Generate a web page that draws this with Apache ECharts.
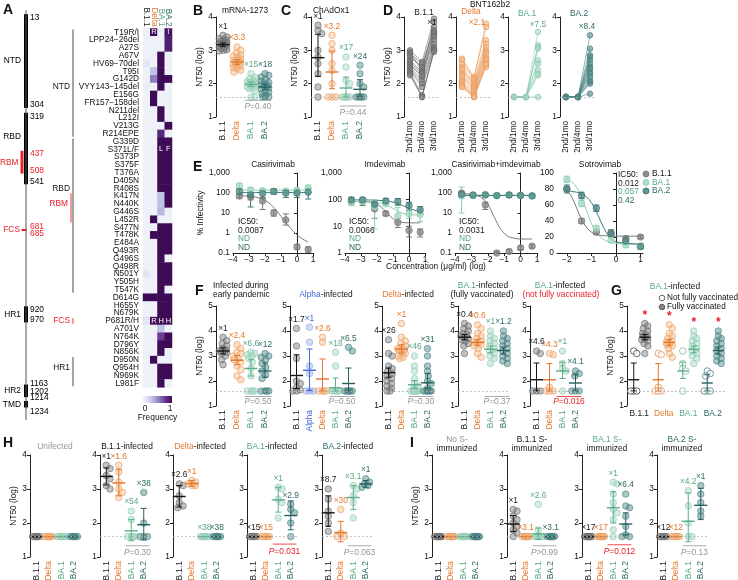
<!DOCTYPE html>
<html>
<head>
<meta charset="utf-8">
<script src="https://cdn.jsdelivr.net/npm/echarts@6.0.0/dist/echarts.min.js"></script>
<style>html,body{margin:0;padding:0;background:#fff;}#chart{width:738px;height:580px;}</style>
</head>
<body>
<div id="chart"></div>
<script>
// ================= DATA =================
// ---- Panel A: heatmap ----
const mutations = ['T19R/I','LPP24\u221226del','A27S','A67V','HV69\u221270del','T95I','G142D','VYY143\u2212145del','E156G','FR157\u2212158del',
 'N211del','L212I','V213G','R214EPE','G339D','S371L/F','S373P','S375F','T376A','D405N',
 'R408S','K417N','N440K','G446S','L452R','S477N','T478K','E484A','Q493R','G496S',
 'Q498R','N501Y','Y505H','T547K','D614G','H655Y','N679K','P681R/H','A701V','N764K',
 'D796Y','N856K','D950N','Q954H','N969K','L981F'];
const heatCols = ['B.1.1','Delta','BA.1','BA.2'];
const freqB11 = [0.02,0.02,0.02,0.02,0.10,0.02,0.02,0.04,0.02,0.02,
 0.02,0.02,0.02,0.02,0.02,0.02,0.02,0.02,0.02,0.02,
 0.02,0.02,0.02,0.02,0.02,0.02,0.02,0.02,0.02,0.02,
 0.02,0.10,0.02,0.02,1.00,0.02,0.02,0.10,0.02,0.02,
 0.02,0.02,0.02,0.02,0.02,0.02];
const freqDelta = [1.00,0.02,0.02,0.02,0.02,0.30,0.55,0.02,1.00,1.00,
 0.02,0.02,0.02,0.02,0.02,0.02,0.02,0.02,0.02,0.02,
 0.02,0.02,0.02,0.02,1.00,0.02,1.00,0.02,0.02,0.02,
 0.02,0.02,0.02,0.02,1.00,0.02,0.02,1.00,0.02,0.02,
 0.02,0.02,1.00,0.02,0.02,0.02];
const freqBA1 = [0.02,0.02,0.02,1.00,1.00,1.00,1.00,1.00,0.02,0.02,
 1.00,1.00,0.02,0.85,1.00,1.00,1.00,1.00,1.00,1.00,
 1.00,0.30,0.30,0.35,0.02,1.00,1.00,1.00,1.00,1.00,
 1.00,1.00,1.00,1.00,1.00,1.00,1.00,1.00,0.30,0.75,
 1.00,1.00,0.02,1.00,1.00,1.00];
const freqBA2 = [0.95,0.90,0.90,0.04,0.03,0.02,1.00,0.02,0.02,0.02,
 0.02,0.02,1.00,0.02,1.00,1.00,1.00,1.00,1.00,1.00,
 1.00,1.00,1.00,0.02,0.02,1.00,1.00,1.00,1.00,0.02,
 1.00,1.00,1.00,0.02,1.00,1.00,1.00,1.00,0.02,1.00,
 1.00,0.02,0.02,1.00,1.00,0.02];
const cellLetterRow = [0,0,15,15,37,37,37];
const cellLetterCol = [1,3,2,3,1,2,3];
const cellLetterTxt = ['R','I','L','F','R','H','H'];
const bracketNames = ['NTD','RBD','RBM','FCS','HR1'];
const bracketFrom = [0,14,21,37,42];
const bracketTo = [13,33,24,37,45];
// ---- Panel A: spike domains ----
const proteinSpan = [1,1273];
const domainNames = ['NTD','RBD','RBM','FCS','HR1','HR2','TMD'];
const domainStart = [13,319,437,681,920,1163,1214];
const domainEnd = [304,541,508,685,970,1202,1234];

const LOD = 1.6;
const V4 = ['B.1.1','Delta','BA.1','BA.2'];

// ---- Panel B: mRNA-1273 ----
const B_B11 = [3.45,3.4,3.35,3.32,3.3,3.27,3.25,3.22,3.2,3.18,3.16,3.15,3.12,3.1,3.08,3.05,3.02,3.0,2.98,3.2];
const B_Delta = [3.1,3.0,2.92,2.86,2.82,2.78,2.74,2.7,2.68,2.65,2.62,2.6,2.58,2.55,2.52,2.48,2.45,2.4,2.35,2.7];
const B_BA1 = [2.3,2.2,2.15,2.1,2.06,2.03,2.0,1.98,1.96,1.93,1.9,1.88,1.85,1.8,1.6,1.6,2.05];
const B_BA2 = [2.3,2.25,2.2,2.12,2.08,2.04,2.0,1.96,1.92,1.88,1.84,1.8,1.75,1.7,1.65,1.6,1.6,1.6,1.95];
const B_mean = [3.17,2.65,1.98,1.9], B_lo = [3.12,2.58,1.92,1.82], B_hi = [3.22,2.72,2.05,1.98];
const B_fold = ['\u00d71','\u00d73.3','\u00d715','\u00d718'];
// ---- Panel C: ChAdOx1 ----
const C_B11 = [3.75,3.6,3.5,3.0,2.8,2.6,2.3,1.9,1.6];
const C_Delta = [3.45,3.2,3.0,2.6,2.4,2.0,1.6,1.6,1.6];
const C_BA1 = [2.8,2.5,2.1,2.0,1.6,1.6,1.6,1.6,1.6];
const C_BA2 = [2.55,2.3,2.0,1.9,1.6,1.6,1.6,1.6,1.6];
const C_mean = [2.78,2.35,1.87,1.83], C_lo = [2.22,1.85,1.6,1.6], C_hi = [3.48,2.98,2.2,2.12];
const C_fold = ['\u00d71','\u00d73.2','\u00d717','\u00d724'];
// ---- Panel D: BNT162b2 longitudinal ----
const D_cats = ['2nd/1mo','2nd/4mo','3rd/1mo'];
const D_B11_1 = [3.0,2.95,2.9,2.85,2.8,2.7,2.65,2.6,2.55,2.5,2.45,2.4,2.35,2.3,2.25];
const D_B11_4 = [2.65,2.4,2.6,2.45,2.5,2.35,2.3,2.2,2.25,2.1,2.0,1.9,1.65,1.6,1.6];
const D_B11_3 = [3.95,3.85,3.6,3.7,3.55,3.5,3.45,3.4,3.3,3.2,3.1,3.05,3.0,3.0,2.95];
const D_Delta_1 = [2.75,2.7,2.6,2.5,2.45,2.4,2.3,2.25,2.2,2.1,2.05,2.0,1.95,1.9,1.9];
const D_Delta_4 = [2.2,2.15,2.1,2.0,1.95,1.9,1.85,1.8,1.75,1.7,1.65,1.6,1.6,1.6,1.6];
const D_Delta_3 = [3.8,3.7,3.3,3.2,3.1,3.0,2.95,2.9,2.8,2.75,2.7,2.6,2.55,2.5,2.6];
const D_BA1_1 = [1.6,1.6,1.6,1.6,1.6,1.6,1.6,1.6,1.6,1.6];
const D_BA1_4 = [1.6,1.6,1.6,1.6,1.6,1.6,1.6,1.6,1.6,1.6];
const D_BA1_3 = [3.55,3.15,3.1,3.05,2.7,2.6,2.4,2.3,2.25,1.6];
const D_BA2_1 = [1.6,1.6,1.6,1.6,1.6,1.6,1.6,1.6,1.6,1.6,1.6,1.6,1.6,1.6,1.6];
const D_BA2_4 = [1.6,1.6,1.6,1.6,1.6,1.6,1.6,1.6,1.6,1.6,1.6,1.6,1.6,1.6,1.6];
const D_BA2_3 = [3.45,3.05,2.85,2.8,2.7,2.6,2.5,2.45,2.35,2.3,2.2,2.1,2.05,2.0,1.7];
const D_fold = ['\u00d71','\u00d72.1','\u00d77.5','\u00d78.4'];
// ---- Panel E: antibodies ----
const E_conc = [-3.6,-2.9,-2.15,-1.45,-0.7,0,0.7];
const E_fitX = [-3.6,-3.2,-2.8,-2.4,-2,-1.6,-1.2,-0.8,-0.4,0,0.35,0.7];
const E_flatX = [-3.6,0.7];
const E_cas_B11 = [70,65,40,10,4.5,0.2,0.15], E_cas_B11_lo = [55,45,15,7,2.5,0.15,0.11], E_cas_B11_hi = [85,80,60,14,9,0.27,0.2];
const E_cas_BA1 = [230,140,130,120,125,130,180], E_cas_BA1_lo = [150,100,90,90,90,80,100], E_cas_BA1_hi = [300,180,170,160,160,180,250];
const E_cas_BA2 = [120,80,95,120,100,100,110], E_cas_BA2_lo = [90,20,55,85,60,60,50], E_cas_BA2_hi = [160,110,130,160,130,140,170];
const E_cas_B11_fit = [74,71,66,57,43,25,11,4.2,1.7,0.8,0.5,0.35];
const E_cas_BA1_fit = [140,140];
const E_cas_BA2_fit = [105,105];
const E_imd_B11 = [85,85,45,30,14,7,6], E_imd_B11_lo = [70,60,20,25,9,4,4], E_imd_B11_hi = [100,105,70,36,20,10,8];
const E_imd_BA1 = [80,85,55,70,25,30,28], E_imd_BA1_lo = [60,70,8,60,15,20,15], E_imd_BA1_hi = [100,100,100,82,50,45,40];
const E_imd_BA2 = [100,100,68,90,85,60,42], E_imd_BA2_lo = [80,85,58,70,62,40,30], E_imd_BA2_hi = [120,115,80,110,110,80,55];
const E_imd_B11_fit = [86,85,84,80,68,45,25,16,14,13.5,13.5,13.5];
const E_imd_BA1_fit = [86,85,84,82,78,70,55,40,31,28,27,26];
const E_imd_BA2_fit = [98,98,98,97,95,92,86,75,60,48,40,35];
const E_ci_B11 = [100,75,25,0.1,0.12,0.18,0.22], E_ci_B11_lo = [85,60,15,0.1,0.1,0.15,0.18], E_ci_B11_hi = [115,90,35,0.12,0.15,0.22,0.27];
const E_ci_BA1 = [70,75,85,72,80,78,70], E_ci_BA1_lo = [10,60,70,60,60,60,55], E_ci_BA1_hi = [200,90,100,85,100,95,85];
const E_ci_BA2 = [85,80,80,75,80,75,72], E_ci_BA2_lo = [70,65,65,60,60,60,60], E_ci_BA2_hi = [100,95,95,90,95,90,85];
const E_ci_B11_fit = [95,90,80,60,28,6,1.5,0.7,0.55,0.5,0.5,0.5];
const E_ci_BA1_fit = [78,78];
const E_ci_BA2_fit = [75,75];
const E_sot_conc = [-2,-1.4,-0.8,-0.2,0.4,1];
const E_sot_fitX = [-2,-1.8,-1.6,-1.4,-1.2,-1,-0.8,-0.6,-0.4,-0.2,0,0.5,1];
const E_sot_B11 = [80,40,26,24,18,20], E_sot_B11_lo = [77,37,23,21,15,18], E_sot_B11_hi = [83,43,29,27,21,22];
const E_sot_BA1 = [92,62,31,16,10,9], E_sot_BA1_lo = [88,58,28,13,7,6], E_sot_BA1_hi = [96,66,34,19,13,12];
const E_sot_BA2 = [80,72,56,25,15,8], E_sot_BA2_lo = [75,68,52,21,11,5], E_sot_BA2_hi = [85,76,60,29,19,11];
const E_sot_B11_fit = [78,70,56,42,32,26,23,22,21.5,21,21,21,21];
const E_sot_BA1_fit = [92,89,82,70,53,37,26,19,15,13,12,11,11];
const E_sot_BA2_fit = [78,77,76,74,70,63,52,38,26,18,14,12,11];
const E_ic50_cas = ['0.0087','ND','ND'];
const E_ic50_imd = ['0.0066','ND','ND'];
const E_ic50_ci = ['0.0031','ND','ND'];
const E_ic50_sot = ['0.012','0.057','0.42'];
// ---- Panel F ----
const F1_B11 = [3.75,3.62,3.5,3.4,3.3,3.25,3.2,3.2,3.15,3.1,3.0,2.85,2.65];
const F1_Delta = [3.45,3.3,3.15,3.1,3.0,2.9,2.85,2.75,2.6,2.45,2.2,2.05];
const F1_BA1 = [3.15,3.1,3.05,3.0,2.9,2.75,2.5,2.2,1.6,1.6,1.6,1.6];
const F1_BA2 = [3.1,3.0,2.95,2.85,2.7,2.55,2.4,2.25,2.1,1.6,1.6,1.6,1.6];
const F1_mean = [3.2,2.83,2.5,2.4], F1_lo = [3.08,2.65,2.2,2.15], F1_hi = [3.33,3.02,2.85,2.72];
const F1_fold = ['\u00d71','\u00d72.4','\u00d76.6','\u00d712'];
const F2_cats = ['B.1.1','Alpha','Delta','BA.1','BA.2'];
const F2_B11 = [4.1,3.4,2.9,2.0,1.9,1.75,1.65,1.6,1.6];
const F2_Alpha = [4.15,3.55,2.6,2.3,1.6,1.6,1.6];
const F2_Delta = [3.75,3.55,1.6,1.6,1.6,1.6];
const F2_BA1 = [3.15,2.6,1.6,1.6,1.6,1.6,1.6];
const F2_BA2 = [3.35,3.2,1.6,1.6,1.6,1.6,1.6,1.6];
const F2_mean = [2.22,2.43,2.08,1.73,1.9], F2_lo = [1.7,1.62,1.6,1.6,1.6], F2_hi = [3.05,3.28,2.88,2.12,2.52];
const F2_fold = ['\u00d71.7','\u00d71','\u00d72.6','\u00d718','\u00d76.5'];
const F3_B11 = [3.65,3.1,3.0,2.6,2.5,2.4,2.3,2.2,2.1,2.0,1.9,1.8,1.7,1.6,1.6];
const F3_Delta = [4.3,3.75,3.6,3.5,3.4,3.3,3.3,3.25,3.2,3.15,3.1,3.0,2.95,2.9];
const F3_BA1 = [3.0,2.6,2.4,2.1,1.9,1.8,1.7,1.6,1.6,1.6,1.6,1.6,1.6,1.6];
const F3_BA2 = [3.3,3.0,2.6,2.4,2.2,2.0,1.9,1.7,1.6,1.6,1.6,1.6,1.6,1.6];
const F3_mean = [2.33,3.28,1.85,1.93], F3_lo = [2.15,3.12,1.7,1.72], F3_hi = [2.52,3.45,2.02,2.3];
const F3_fold = ['\u00d726','\u00d71','\u00d746','\u00d731'];
const F4_B11 = [4.3,4.2,4.1,4.0,3.9,3.85,3.8,3.75,3.7,3.65,3.6,3.5,3.4,3.1];
const F4_Delta = [4.25,4.1,3.9,3.8,3.7,3.6,3.55,3.5,3.45,3.4,3.3,3.1,2.95];
const F4_BA1 = [4.0,3.8,3.7,3.6,3.5,3.4,3.3,3.2,3.1,3.0,2.9,2.7];
const F4_BA2 = [4.0,3.8,3.7,3.6,3.5,3.4,3.3,3.2,3.1,3.0,2.9,2.8,2.7];
const F4_mean = [3.75,3.55,3.27,3.22], F4_lo = [3.65,3.43,3.13,3.08], F4_hi = [3.86,3.67,3.4,3.36];
const F4_fold = ['\u00d70.4','\u00d70.6','\u00d71','\u00d71.2'];
const F5_B11 = [3.2,3.1,1.6,1.6,1.6];
const F5_Delta = [3.1,3.05,1.75,1.6,1.6,1.6];
const F5_BA1 = [3.2,2.7,2.5,2.4,1.6];
const F5_BA2 = [2.4,2.3,2.2,1.6,1.6,1.6];
const F5_mean = [2.05,2.05,2.4,1.92], F5_lo = [1.6,1.6,2.1,1.6], F5_hi = [2.72,2.7,2.75,2.25];
const F5_fold = ['\u00d74.6','\u00d74.3','\u00d71','\u00d74.1'];
// ---- Panel H ----
const H1_B11 = [1.6,1.6,1.6,1.6,1.6,1.6], H1_Delta = [1.6,1.6,1.6,1.6,1.6,1.6], H1_BA1 = [1.6,1.6,1.6,1.6,1.6,1.6], H1_BA2 = [1.6,1.6,1.6,1.6,1.6,1.6];
const H1_mean = [1.6,1.6,1.6,1.6];
const H2_B11 = [3.7,3.6,3.4,3.3,3.1,3.0], H2_Delta = [3.7,3.5,3.2,3.0,2.9,2.75], H2_BA1 = [2.35,2.1,1.6,1.6,1.6,1.6], H2_BA2 = [2.9,2.0,1.6,1.6,1.6];
const H2_mean = [3.37,3.18,1.77,1.95], H2_lo = [3.12,2.8,1.48,1.5], H2_hi = [3.62,3.58,2.1,2.43];
const H2_fold = ['\u00d71','\u00d71.6','\u00d754','\u00d738'];
const H3_B11 = [3.15,3.1,2.8,2.6,2.5,2.45], H3_Delta = [3.25,3.2,3.15,3.1,3.1], H3_BA1 = [1.6,1.6,1.6,1.6,1.6,1.6], H3_BA2 = [1.6,1.6,1.6,1.6,1.6,1.6];
const H3_mean = [2.78,3.16,1.6,1.6], H3_lo = [2.47,3.08,1.6,1.6], H3_hi = [3.1,3.25,1.6,1.6];
const H3_fold = ['\u00d72.6','\u00d71','\u00d738','\u00d738'];
const H4_B11 = [1.6,1.6,1.6,1.6,1.6], H4_Delta = [1.6,1.6,1.6,1.6,1.6], H4_BA1 = [3.05,3.0,2.7,2.6,2.15], H4_BA2 = [2.55,2.4,2.3,2.0,1.6];
const H4_mean = [1.6,1.6,2.68,2.22], H4_lo = [1.6,1.6,2.32,1.8], H4_hi = [1.6,1.6,3.05,2.65];
const H4_fold = ['\u00d715','\u00d715','\u00d71','\u00d72.9'];
const H5_B11 = [3.0,2.7,2.35,2.2,2.0,1.75], H5_Delta = [2.4,1.7,1.6,1.6], H5_BA1 = [3.1,3.0,2.8,2.6,2.15], H5_BA2 = [3.3,3.2,3.15,3.1,3.05];
const H5_mean = [2.3,1.72,2.75,3.15], H5_lo = [1.9,1.45,2.4,3.05], H5_hi = [2.8,2.05,3.1,3.25];
const H5_fold = ['\u00d78.7','\u00d730','\u00d73.1','\u00d71'];
// ---- Panel I ----
const I1_B11 = [1.6,1.6,1.6,1.6,1.6,1.6,1.6,1.6], I1_Delta = [1.6,1.6,1.6,1.6,1.6,1.6,1.6,1.6], I1_BA1 = [1.6,1.6,1.6,1.6,1.6,1.6,1.6,1.6], I1_BA2 = [1.6,1.6,1.6,1.6,1.6,1.6,1.6,1.6];
const I1_mean = [1.6,1.6,1.6,1.6];
const I2_B11 = [2.4,2.35,2.2,2.1,2.0,1.9,1.8,1.7,1.6], I2_Delta = [1.6,1.6,1.6,1.6,1.6,1.6,1.6,1.6], I2_BA1 = [2.55,1.8,1.6,1.6,1.6,1.6,1.6,1.6], I2_BA2 = [1.6,1.6,1.6,1.6,1.6,1.6,1.6,1.6];
const I2_mean = [1.97,1.6,1.68,1.6], I2_lo = [1.75,1.6,1.52,1.6], I2_hi = [2.22,1.6,1.85,1.6];
const I2_fold = ['\u00d71','\u00d73.1','\u00d72.6','\u00d73.1'];
const I3_B11 = [1.6,1.6,1.6,1.6,1.6,1.6,1.6,1.6], I3_Delta = [1.6,1.6,1.6,1.6,1.6,1.6,1.6,1.6], I3_BA1 = [3.2,3.15,2.85,2.6,2.4,2.3,2.1,1.8,1.6], I3_BA2 = [2.85,2.5,2.45,2.2,1.9,1.65,1.6,1.6];
const I3_mean = [1.6,1.6,2.45,1.97], I3_lo = [1.6,1.6,2.0,1.65], I3_hi = [1.6,1.6,2.92,2.3];
const I3_fold = ['\u00d717','\u00d717','\u00d71','\u00d76.4'];
const I4_B11 = [1.6,1.6,1.6,1.6,1.6], I4_Delta = [1.6,1.6,1.6,1.6,1.6], I4_BA1 = [2.95,2.5,2.0,1.6,1.6], I4_BA2 = [3.1,2.85,2.6,2.35,2.2];
const I4_mean = [1.6,1.6,2.05,2.52], I4_lo = [1.6,1.6,1.45,2.1], I4_hi = [1.6,1.6,2.88,3.02];
const I4_fold = ['\u00d712','\u00d712','\u00d74.2','\u00d71'];

// ================= STYLE / BUILD =================
const FONT = '"Liberation Sans", Arial, Helvetica, sans-serif';
const FS = 8.4;
const COL = {
  b11:{pt:'rgba(128,128,128,0.6)', st:'#6a6a6a', bar:'#151515', lab:'#1a1a1a', line:'#7a7a7a'},
  delta:{pt:'rgba(246,186,136,0.55)', st:'#eb9a5a', bar:'#e3772c', lab:'#e3772c', line:'#eea061'},
  ba1:{pt:'rgba(165,218,196,0.6)', st:'#8fcab0', bar:'#5dae8b', lab:'#55a883', line:'#8dcfb1'},
  ba2:{pt:'rgba(78,136,134,0.6)', st:'#4a8482', bar:'#27605e', lab:'#2c6866', line:'#3d7674'},
  alpha:{pt:'rgba(150,172,238,0.55)', st:'#8ea6ea', bar:'#4466d0', lab:'#4466d0', line:'#4466d0'}
};
const GRAYT = '#959595', RED = '#e8202a';
const K4 = ['b11','delta','ba1','ba2'];
const HEAT_COLORS = ['#f2f4fa','#c9d0ec','#9a90c8','#6a3c96','#3e0b56'];
const bracketLabelRow = [6.5, 20.3, 21.8, 37, 43.2];

const option = {animation:false, backgroundColor:'#fff', textStyle:{fontFamily:FONT},
  grid:[], xAxis:[], yAxis:[], series:[], visualMap:[], graphic:{elements:[]}};
const G = option.graphic.elements;

function T(x, y, text, o){
  o = o || {}; const size = o.size || FS;
  const st = {text:text, fill:o.fill||'#111', font:(o.bold?'bold ':'')+(o.italic?'italic ':'')+size+'px '+FONT,
    textAlign:o.align||'left', align:o.align||'left', textVerticalAlign:o.va||'middle', verticalAlign:o.va||'middle'};
  if (o.rich) st.rich = o.rich;
  G.push({type:'text', x:x, y:y, silent:true, z:100, style:st});
}
function R(col, extra){ return Object.assign({fill:col, fontSize:FS, fontFamily:FONT}, extra||{}); }
function newGrid(p){
  option.grid.push({left:p.left, top:p.top, width:p.width, height:p.height, containLabel:false, outerBoundsMode:'none'});
  return option.grid.length - 1;
}
function addCat(gi, cats, colors, o){
  o = o || {};
  option.xAxis.push({type:'category', gridIndex:gi, data:cats, boundaryGap:true,
    axisLine:{show:false}, axisTick:{show:false}, splitLine:{show:false},
    axisLabel:{interval:0, rotate:(o.rotate===undefined?90:o.rotate), fontSize:o.fs||FS, fontFamily:FONT, margin:o.margin||4,
      color:function(v, i){ return colors[i]; }}});
}
function addVal(gi, min, max, interval, o){
  o = o || {};
  option.yAxis.push({type:'value', gridIndex:gi, min:min, max:max, interval:interval,
    axisLine:{show:true, lineStyle:{color:'#222', width:1}}, axisTick:{show:true, length:3, lineStyle:{color:'#222'}},
    splitLine:{show:false}, axisLabel:{fontSize:FS, fontFamily:FONT, color:'#111', margin:3},
    name:o.name||'', nameLocation:'middle', nameGap:o.nameGap||13,
    nameTextStyle:{fontSize:FS, fontFamily:FONT, color:'#111'}});
}
const LODLINE = {silent:true, symbol:'none', label:{show:false}, animation:false,
  lineStyle:{type:[2,2], color:'#b3b3b3', width:0.8}, data:[{yAxis:LOD}]};

function swarm(vals, ppu, d, cap){
  const n = vals.length, order = vals.map((v,i)=>i).sort((a,b)=>vals[b]-vals[a]);
  const pos = [], offs = new Array(n).fill(0);
  const cands = [0]; for (let s = 0.75; s <= cap + 1e-6; s += 0.75) { cands.push(s, -s); }
  for (const i of order) {
    const y = vals[i]*ppu; let best = 0, bestD = -1;
    for (const o of cands) {
      let md = Infinity;
      for (const q of pos) { const dd = Math.hypot(q[0]-o, q[1]-y); if (dd < md) md = dd; }
      if (md >= d) { best = o; bestD = md; break; }
      if (md > bestD) { bestD = md; best = o; }
    }
    offs[i] = best; pos.push([best, y]);
  }
  return offs;
}

function dotPanel(p){
  const gi = newGrid(p);
  const cats = p.cats || V4, keys = p.keys || K4;
  addCat(gi, cats, keys.map(k=>COL[k].lab), {rotate:p.rotate});
  addVal(gi, p.ymin, p.ymax, 1, {name:p.yName?'NT50 (log)':'', nameGap:p.nameGap||12});
  const catW = p.width/cats.length, ppu = p.height/(p.ymax-p.ymin);
  const subs = p.subs || [{groups:p.groups, mean:p.mean, lo:p.lo||p.mean, hi:p.hi||p.mean, shift:0, open:false}];
  let first = true;
  subs.forEach(function(sub){
    sub.groups.forEach(function(vals, k){
      const c = COL[keys[k]];
      const offs = swarm(vals, ppu, p.dotD||5, p.cap||catW*0.32);
      const s = {type:'scatter', xAxisIndex:gi, yAxisIndex:gi, symbol:'circle', symbolSize:p.sym||6.5, z:2, silent:true,
        data:vals.map((v,j)=>({value:[k,v], symbolOffset:[offs[j]+sub.shift,0]})),
        itemStyle:{color:sub.open?'rgba(255,255,255,0.85)':c.pt, borderColor:sub.open?c.bar:c.st, borderWidth:0.8}};
      if (first) { s.markLine = LODLINE; first = false; }
      option.series.push(s);
    });
    option.series.push({type:'custom', xAxisIndex:gi, yAxisIndex:gi, z:4, silent:true, clip:false,
      encode:{x:0, y:[1,2,3]},
      data:sub.mean.map((m,k)=>[k, m, sub.lo[k], sub.hi[k]]),
      renderItem:function(params, api){
        const k = api.value(0), col = COL[keys[k]].bar;
        const pm = api.coord([k, api.value(1)]), pl = api.coord([k, api.value(2)]), ph = api.coord([k, api.value(3)]);
        const x = pm[0] + sub.shift, hw = p.meanHW||6.5, cw = p.capHW||3;
        return {type:'group', children:[
          {type:'line', shape:{x1:x-hw, y1:pm[1], x2:x+hw, y2:pm[1]}, style:{stroke:col, lineWidth:1.4}},
          {type:'line', shape:{x1:x, y1:pl[1], x2:x, y2:ph[1]}, style:{stroke:col, lineWidth:1}},
          {type:'line', shape:{x1:x-cw, y1:pl[1], x2:x+cw, y2:pl[1]}, style:{stroke:col, lineWidth:1}},
          {type:'line', shape:{x1:x-cw, y1:ph[1], x2:x+cw, y2:ph[1]}, style:{stroke:col, lineWidth:1}}]};
      }});
  });
  if (p.folds) {
    option.series.push({type:'custom', xAxisIndex:gi, yAxisIndex:gi, z:5, silent:true, clip:false, encode:{x:0, y:1},
      data:p.groups.map((vals,k)=>[k, Math.max.apply(null, vals)]),
      renderItem:function(params, api){
        const k = api.value(0), pt = api.coord([k, api.value(1)]);
        return {type:'text', x:pt[0], y:pt[1]-5, style:{text:p.folds[k], fill:COL[keys[k]].lab, font:FS+'px '+FONT,
          align:'center', verticalAlign:'bottom', textAlign:'center', textVerticalAlign:'bottom'}};
      }});
  }
  if (p.stars) {
    const sub = p.stars;
    option.series.push({type:'custom', xAxisIndex:gi, yAxisIndex:gi, z:5, silent:true, clip:false, encode:{x:0, y:1},
      data:sub.groups.map((vals,k)=>[k, Math.max.apply(null, vals)]),
      renderItem:function(params, api){
        const k = api.value(0), pt = api.coord([k, api.value(1)]);
        return {type:'text', x:pt[0]+sub.shift, y:pt[1]-2, style:{text:'*', fill:RED, font:'bold 12px '+FONT,
          align:'center', verticalAlign:'bottom', textAlign:'center', textVerticalAlign:'bottom'}};
      }});
  }
  if (p.p) {
    const P = p.p;
    option.series.push({type:'custom', xAxisIndex:gi, yAxisIndex:gi, z:5, silent:true, clip:false, encode:{x:0, y:1},
      data:[[P.a, P.line]],
      renderItem:function(params, api){
        const a = api.coord([P.a, P.line]), b = api.coord([P.b, P.line]), t = api.coord([P.a, P.txt]);
        const hw = catW*0.45;
        return {type:'group', children:[
          {type:'line', shape:{x1:a[0]-hw, y1:a[1], x2:b[0]+hw, y2:b[1]}, style:{stroke:P.color, lineWidth:0.8}},
          {type:'text', x:(a[0]+b[0])/2, y:t[1], style:{text:'{i|P}'+P.text, fill:P.color, font:FS+'px '+FONT,
            rich:{i:{fontStyle:'italic', fontSize:FS, fontFamily:FONT, fill:P.color}},
            align:'center', verticalAlign:'middle', textAlign:'center', textVerticalAlign:'middle'}}]};
      }});
  }
  return gi;
}

function pairPanel(p){
  const gi = newGrid(p);
  addCat(gi, D_cats, ['#111','#111','#111'], {rotate:90, fs:8.2});
  addVal(gi, 1, 4, 1, {name:p.yName?'NT50 (log)':'', nameGap:12});
  const c = COL[p.key];
  p.v1.forEach(function(_, i){
    const s = {type:'line', xAxisIndex:gi, yAxisIndex:gi, silent:true, z:2, symbol:'circle', symbolSize:5.5,
      data:[[0,p.v1[i]],[1,p.v2[i]],[2,p.v3[i]]],
      lineStyle:{color:c.st, width:0.7, opacity:0.85},
      itemStyle:{color:c.pt, borderColor:c.st, borderWidth:0.8}};
    if (i === 0) s.markLine = LODLINE;
    option.series.push(s);
  });
  return gi;
}

function curvePanel(p){
  const gi = newGrid(p);
  const xa = {type:'value', gridIndex:gi, min:p.xmin, max:p.xmax,
    axisLine:{show:true, lineStyle:{color:'#222'}}, axisTick:{show:true, length:3, lineStyle:{color:'#222'}}, splitLine:{show:false},
    axisLabel:{fontSize:FS, fontFamily:FONT, color:'#111', margin:3, formatter:function(v){ return String(v).replace('-', '\u2212'); }}};
  if (p.xticks) { xa.axisLabel.customValues = p.xticks; xa.axisTick.customValues = p.xticks; }
  else { xa.interval = 1; }
  option.xAxis.push(xa);
  const ya = {type:p.log?'log':'value', gridIndex:gi, min:p.ymin, max:p.ymax,
    axisLine:{show:true, lineStyle:{color:'#222'}}, axisTick:{show:true, length:3, lineStyle:{color:'#222'}}, splitLine:{show:false},
    axisLabel:{fontSize:FS, fontFamily:FONT, color:'#111', margin:3,
      formatter:function(v){ return v >= 1000 ? '1,000' : String(v); }},
    name:p.yName||'', nameLocation:'middle', nameGap:26, nameTextStyle:{fontSize:FS, fontFamily:FONT, color:'#111'}};
  if (p.log) ya.logBase = 10; else ya.interval = p.yint;
  option.yAxis.push(ya);
  p.vars.forEach(function(v){
    const c = COL[v.key];
    option.series.push({type:'line', xAxisIndex:gi, yAxisIndex:gi, silent:true, z:1, smooth:0.35, symbol:'none',
      data:v.fx.map((x,i)=>[x, v.fy[i]]), lineStyle:{color:c.line, width:1}});
    option.series.push({type:'custom', xAxisIndex:gi, yAxisIndex:gi, silent:true, z:2, clip:false, encode:{x:0, y:[1,2]},
      data:v.x.map((x,i)=>[x, v.lo[i], v.hi[i]]),
      renderItem:function(params, api){
        const a = api.coord([api.value(0), api.value(1)]), b = api.coord([api.value(0), api.value(2)]);
        const cw = 3, col = c.line;
        return {type:'group', children:[
          {type:'line', shape:{x1:a[0], y1:a[1], x2:b[0], y2:b[1]}, style:{stroke:col, lineWidth:1}},
          {type:'line', shape:{x1:a[0]-cw, y1:a[1], x2:a[0]+cw, y2:a[1]}, style:{stroke:col, lineWidth:1}},
          {type:'line', shape:{x1:b[0]-cw, y1:b[1], x2:b[0]+cw, y2:b[1]}, style:{stroke:col, lineWidth:1}}]};
      }});
    option.series.push({type:'scatter', xAxisIndex:gi, yAxisIndex:gi, silent:true, z:3, symbol:'circle', symbolSize:6.5,
      data:v.x.map((x,i)=>[x, v.y[i]]),
      itemStyle:{color:c.pt.replace(/0\.\d+\)$/, '0.9)'), borderColor:c.line, borderWidth:0.9}});
  });
  return gi;
}

// ---------- Panel A ----------
T(3, 10, 'A', {bold:true, size:14});
(function(){
  const gi = newGrid({left:14, top:10, width:24, height:410});
  option.xAxis.push({type:'value', gridIndex:gi, min:0, max:1, show:false});
  option.yAxis.push({type:'value', gridIndex:gi, min:0, max:1273, inverse:true, show:false});
  option.series.push({type:'line', xAxisIndex:gi, yAxisIndex:gi, silent:true, symbol:'none',
    data:[[0.5, proteinSpan[0]],[0.5, proteinSpan[1]]], lineStyle:{color:'#555', width:1}});
  const sDy = [3,4,3,-3,3,-1,-3], eDy = [-3,-3,-3,3,-3,-5,4], nDy = [0,-12,0,0,0,0,0];
  option.series.push({type:'custom', xAxisIndex:gi, yAxisIndex:gi, silent:true, clip:false, z:3, encode:{x:0, y:[1,2]},
    data:domainStart.map((s,i)=>[0.5, s, domainEnd[i], i]),
    renderItem:function(params, api){
      const i = api.value(3), nm = domainNames[i];
      const a = api.coord([0.5, api.value(1)]), b = api.coord([0.5, api.value(2)]);
      const red = (nm === 'RBM' || nm === 'FCS'), col = red ? RED : '#000';
      const ch = [];
      if (nm === 'RBM') ch.push({type:'rect', shape:{x:a[0]-5.5, y:a[1], width:3, height:b[1]-a[1]}, style:{fill:RED}});
      else if (nm === 'FCS') ch.push({type:'rect', shape:{x:a[0]-4.5, y:(a[1]+b[1])/2-1, width:5, height:2}, style:{fill:RED}});
      else ch.push({type:'rect', shape:{x:a[0]-2, y:a[1], width:4, height:b[1]-a[1]}, style:{fill:'#000'}});
      const lx = nm === 'RBM' ? a[0]-7.5 : (nm === 'FCS' ? a[0]-6 : a[0]-5);
      ch.push({type:'text', x:lx, y:(a[1]+b[1])/2+nDy[i], style:{text:nm, fill:col, font:FS+'px '+FONT, align:'right', verticalAlign:'middle', textAlign:'right', textVerticalAlign:'middle'}});
      ch.push({type:'text', x:a[0]+4, y:a[1]+sDy[i], style:{text:String(domainStart[i]), fill:col, font:FS+'px '+FONT, align:'left', verticalAlign:'middle', textAlign:'left', textVerticalAlign:'middle'}});
      ch.push({type:'text', x:a[0]+4, y:b[1]+eDy[i], style:{text:String(domainEnd[i]), fill:col, font:FS+'px '+FONT, align:'left', verticalAlign:'middle', textAlign:'left', textVerticalAlign:'middle'}});
      return {type:'group', children:ch};
    }});
})();
(function(){
  const gi = newGrid({left:143, top:28.5, width:29, height:46*7.8});
  option.xAxis.push({type:'category', gridIndex:gi, data:heatCols, position:'top',
    axisLine:{show:false}, axisTick:{show:false},
    axisLabel:{interval:0, rotate:90, fontSize:8.2, fontFamily:FONT, margin:2,
      color:function(v,i){ return COL[K4[i]].lab; }}});
  option.yAxis.push({type:'category', gridIndex:gi, data:mutations, inverse:true,
    axisLine:{show:false}, axisTick:{show:false},
    axisLabel:{interval:0, fontSize:8.3, fontFamily:FONT, color:'#111', margin:4}});
  const freqs = [freqB11, freqDelta, freqBA1, freqBA2];
  const data = [];
  freqs.forEach((arr,c)=>arr.forEach((v,r)=>data.push([c, r, v])));
  const letter = {};
  cellLetterRow.forEach((r,i)=>{ letter[r+'_'+cellLetterCol[i]] = cellLetterTxt[i]; });
  const idx = option.series.length;
  option.series.push({type:'heatmap', xAxisIndex:gi, yAxisIndex:gi, data:data, silent:true,
    itemStyle:{borderWidth:0},
    label:{show:true, color:'#fff', fontSize:7.5, fontFamily:FONT,
      formatter:function(q){ return letter[q.data[1]+'_'+q.data[0]] || ''; }}});
  option.visualMap.push({type:'continuous', show:false, min:0, max:1, dimension:2, seriesIndex:idx,
    inRange:{color:HEAT_COLORS}});
  option.series.push({type:'custom', xAxisIndex:gi, yAxisIndex:gi, silent:true, clip:false, encode:{x:0, y:[1,2]},
    data:bracketFrom.map((f,i)=>[0, f, bracketTo[i], i]),
    renderItem:function(params, api){
      const i = api.value(3), nm = bracketNames[i];
      const a = api.coord([0, api.value(1)]), b = api.coord([0, api.value(2)]);
      const h = api.size([0, 1])[1];
      const red = (nm === 'RBM' || nm === 'FCS'), col = red ? RED : '#333';
      const x = nm === 'RBM' ? 71 : 73;
      const y1 = a[1]-h/2+1, y2 = b[1]+h/2-1;
      const ly = api.coord([0, bracketLabelRow[i]])[1];
      return {type:'group', children:[
        {type:'line', shape:{x1:x, y1:y1, x2:x, y2:y2}, style:{stroke:col, lineWidth:0.9}},
        {type:'text', x:x-3, y:ly, style:{text:nm, fill:red?RED:'#111', font:FS+'px '+FONT, align:'right', verticalAlign:'middle', textAlign:'right', textVerticalAlign:'middle'}}]};
    }});
})();
G.push({type:'rect', silent:true, shape:{x:143, y:396, width:29, height:7},
  style:{fill:{type:'linear', x:0, y:0, x2:1, y2:0, colorStops:HEAT_COLORS.map((c,i)=>({offset:i/(HEAT_COLORS.length-1), color:c}))}}});
T(145, 409, '0', {align:'center'});
T(170, 409, '1', {align:'center'});
T(157.5, 418, 'Frequency', {align:'center'});

// ---------- Panel B ----------
T(193, 4, 'B', {bold:true, size:14, va:'top'});
T(222, 11, 'mRNA-1273');
dotPanel({left:216, top:17, width:56, height:100, ymin:1, ymax:4, yName:true,
  groups:[B_B11, B_Delta, B_BA1, B_BA2], mean:B_mean, lo:B_lo, hi:B_hi, folds:B_fold,
  p:{a:2, b:3, line:1.5, txt:1.3, text:'=0.40', color:GRAYT}});
// ---------- Panel C ----------
T(281, 4, 'C', {bold:true, size:14, va:'top'});
T(313, 11, 'ChAdOx1');
dotPanel({left:311, top:17, width:56, height:100, ymin:1, ymax:4, yName:true,
  groups:[C_B11, C_Delta, C_BA1, C_BA2], mean:C_mean, lo:C_lo, hi:C_hi, folds:C_fold,
  p:{a:2, b:3, line:1.33, txt:1.13, text:'=0.44', color:GRAYT}});
// ---------- Panel D ----------
T(383, 4, 'D', {bold:true, size:14, va:'top'});
T(470, 5, 'BNT162b2');
pairPanel({left:404, top:17, width:36, height:100, key:'b11', yName:true, v1:D_B11_1, v2:D_B11_4, v3:D_B11_3});
pairPanel({left:456, top:17, width:36, height:100, key:'delta', v1:D_Delta_1, v2:D_Delta_4, v3:D_Delta_3});
pairPanel({left:508, top:17, width:36, height:100, key:'ba1', v1:D_BA1_1, v2:D_BA1_4, v3:D_BA1_3});
pairPanel({left:560, top:17, width:36, height:100, key:'ba2', v1:D_BA2_1, v2:D_BA2_4, v3:D_BA2_3});
T(424, 13, 'B.1.1', {align:'center', fill:COL.b11.lab});
T(432, 23, D_fold[0], {align:'center', fill:COL.b11.lab});
T(471, 12, 'Delta', {align:'center', fill:COL.delta.lab});
T(477, 23, D_fold[1], {align:'center', fill:COL.delta.lab});
T(527, 14, 'BA.1', {align:'center', fill:COL.ba1.lab});
T(538, 25, D_fold[2], {align:'center', fill:COL.ba1.lab});
T(579, 14, 'BA.2', {align:'center', fill:COL.ba2.lab});
T(587, 27, D_fold[3], {align:'center', fill:COL.ba2.lab});

// ---------- Panel E ----------
T(193, 160, 'E', {bold:true, size:14, va:'top'});
T(273, 165, 'Casirivimab', {align:'center'});
T(385, 165, 'Imdevimab', {align:'center'});
T(496, 165, 'Casirivimab+imdevimab', {align:'center'});
T(600, 165, 'Sotrovimab', {align:'center'});
curvePanel({left:233, top:173, width:80, height:80, xmin:-4, xmax:1, log:true, ymin:0.1, ymax:1000, yName:'% Infectivity',
  vars:[{key:'b11', x:E_conc, y:E_cas_B11, lo:E_cas_B11_lo, hi:E_cas_B11_hi, fx:E_fitX, fy:E_cas_B11_fit},
        {key:'ba1', x:E_conc, y:E_cas_BA1, lo:E_cas_BA1_lo, hi:E_cas_BA1_hi, fx:E_flatX, fy:E_cas_BA1_fit},
        {key:'ba2', x:E_conc, y:E_cas_BA2, lo:E_cas_BA2_lo, hi:E_cas_BA2_hi, fx:E_flatX, fy:E_cas_BA2_fit}]});
curvePanel({left:345, top:173, width:80, height:80, xmin:-4, xmax:1, log:true, ymin:1, ymax:1000,
  vars:[{key:'b11', x:E_conc, y:E_imd_B11, lo:E_imd_B11_lo, hi:E_imd_B11_hi, fx:E_fitX, fy:E_imd_B11_fit},
        {key:'ba1', x:E_conc, y:E_imd_BA1, lo:E_imd_BA1_lo, hi:E_imd_BA1_hi, fx:E_fitX, fy:E_imd_BA1_fit},
        {key:'ba2', x:E_conc, y:E_imd_BA2, lo:E_imd_BA2_lo, hi:E_imd_BA2_hi, fx:E_fitX, fy:E_imd_BA2_fit}]});
curvePanel({left:455, top:173, width:82, height:80, xmin:-4, xmax:1, log:true, ymin:0.1, ymax:1000,
  vars:[{key:'b11', x:E_conc, y:E_ci_B11, lo:E_ci_B11_lo, hi:E_ci_B11_hi, fx:E_fitX, fy:E_ci_B11_fit},
        {key:'ba1', x:E_conc, y:E_ci_BA1, lo:E_ci_BA1_lo, hi:E_ci_BA1_hi, fx:E_flatX, fy:E_ci_BA1_fit},
        {key:'ba2', x:E_conc, y:E_ci_BA2, lo:E_ci_BA2_lo, hi:E_ci_BA2_hi, fx:E_flatX, fy:E_ci_BA2_fit}]});
curvePanel({left:557, top:173, width:86, height:80, xmin:-2.4, xmax:1.1, xticks:[-2,-1,0,1], log:false, ymin:0, ymax:100, yint:20,
  vars:[{key:'b11', x:E_sot_conc, y:E_sot_B11, lo:E_sot_B11_lo, hi:E_sot_B11_hi, fx:E_sot_fitX, fy:E_sot_B11_fit},
        {key:'ba1', x:E_sot_conc, y:E_sot_BA1, lo:E_sot_BA1_lo, hi:E_sot_BA1_hi, fx:E_sot_fitX, fy:E_sot_BA1_fit},
        {key:'ba2', x:E_sot_conc, y:E_sot_BA2, lo:E_sot_BA2_lo, hi:E_sot_BA2_hi, fx:E_sot_fitX, fy:E_sot_BA2_fit}]});
[[238, E_ic50_cas],[349, E_ic50_imd],[459, E_ic50_ci]].forEach(function(e){
  T(e[0], 222, 'IC50:');
  T(e[0], 230.5, e[1][0], {fill:COL.b11.lab});
  T(e[0], 239, e[1][1], {fill:COL.ba1.lab});
  T(e[0], 247.5, e[1][2], {fill:COL.ba2.lab});
});
T(618, 175, 'IC50:');
T(618, 183.5, E_ic50_sot[0], {fill:COL.b11.lab});
T(618, 192, E_ic50_sot[1], {fill:COL.ba1.lab});
T(618, 200.5, E_ic50_sot[2], {fill:COL.ba2.lab});
[['b11','B.1.1',174],['ba1','BA.1',182.5],['ba2','BA.2',191]].forEach(function(l){
  G.push({type:'circle', silent:true, shape:{cx:646, cy:l[2], r:3}, style:{fill:COL[l[0]].pt.replace(/0\.\d+\)$/, '0.9)'), stroke:COL[l[0]].line, lineWidth:0.9}});
  T(652, l[2], l[1], {fill:l[0]==='b11'?'#111':COL[l[0]].lab});
});
T(436, 267, 'Concentration (\u03bcg/ml) (log)', {align:'center'});

// ---------- Panel F ----------
T(195, 284, 'F', {bold:true, size:14, va:'top'});
T(213, 286, 'Infected during');
T(213, 295, 'early pandemic');
T(326, 295, '{a|Alpha}-infected', {align:'center', rich:{a:R(COL.alpha.lab)}});
T(408, 295, '{a|Delta}-infected', {align:'center', rich:{a:R(COL.delta.lab)}});
T(483, 286, '{a|BA.1}-infected', {align:'center', rich:{a:R(COL.ba1.lab)}});
T(482, 295, '(fully vaccinated)', {align:'center'});
T(560, 286, '{a|BA.1}-infected', {align:'center', rich:{a:R(COL.ba1.lab)}});
T(561, 295, '(not fully vaccinated)', {align:'center', fill:RED});
dotPanel({left:216, top:306, width:56, height:100, ymin:1, ymax:5, yName:true,
  groups:[F1_B11, F1_Delta, F1_BA1, F1_BA2], mean:F1_mean, lo:F1_lo, hi:F1_hi, folds:F1_fold,
  p:{a:2, b:3, line:1.38, txt:1.18, text:'=0.50', color:GRAYT}});
dotPanel({left:290, top:306, width:65, height:100, ymin:1, ymax:5, cats:F2_cats, keys:['b11','alpha','delta','ba1','ba2'],
  groups:[F2_B11, F2_Alpha, F2_Delta, F2_BA1, F2_BA2], mean:F2_mean, lo:F2_lo, hi:F2_hi, folds:F2_fold,
  p:{a:3, b:4, line:1.38, txt:1.18, text:'=0.50', color:GRAYT}});
dotPanel({left:382, top:306, width:52, height:100, ymin:1, ymax:5,
  groups:[F3_B11, F3_Delta, F3_BA1, F3_BA2], mean:F3_mean, lo:F3_lo, hi:F3_hi, folds:F3_fold,
  p:{a:2, b:3, line:1.38, txt:1.18, text:'=0.30', color:GRAYT}});
dotPanel({left:458, top:306, width:52, height:100, ymin:1, ymax:5,
  groups:[F4_B11, F4_Delta, F4_BA1, F4_BA2], mean:F4_mean, lo:F4_lo, hi:F4_hi, folds:F4_fold,
  p:{a:2, b:3, line:1.38, txt:1.18, text:'=0.37', color:GRAYT}});
dotPanel({left:530, top:306, width:52, height:100, ymin:1, ymax:5,
  groups:[F5_B11, F5_Delta, F5_BA1, F5_BA2], mean:F5_mean, lo:F5_lo, hi:F5_hi, folds:F5_fold,
  p:{a:2, b:3, line:1.38, txt:1.18, text:'=0.016', color:RED}});
// ---------- Panel G ----------
T(611, 284, 'G', {bold:true, size:14, va:'top'});
T(675, 287, '{a|BA.1}-infected', {align:'center', rich:{a:R(COL.ba1.lab)}});
G.push({type:'circle', silent:true, shape:{cx:662, cy:298, r:2.8}, style:{fill:'#fff', stroke:'#555', lineWidth:0.9}});
T(667, 298, 'Not fully vaccinated', {size:8.2});
G.push({type:'circle', silent:true, shape:{cx:662, cy:307, r:2.8}, style:{fill:'#888', stroke:'#555', lineWidth:0.9}});
T(667, 307, 'Fully vaccinated', {size:8.2});
dotPanel({left:627, top:306, width:98, height:100, ymin:1, ymax:5, yName:true, rotate:0, cap:3.5, meanHW:5.5,
  subs:[{groups:[F5_B11, F5_Delta, F5_BA1, F5_BA2], mean:F5_mean, lo:F5_lo, hi:F5_hi, shift:-5.5, open:true},
        {groups:[F4_B11, F4_Delta, F4_BA1, F4_BA2], mean:F4_mean, lo:F4_lo, hi:F4_hi, shift:5.5, open:false}],
  stars:{groups:[F4_B11, F4_Delta, F4_BA1, F4_BA2], shift:5.5}});

// ---------- Panel H ----------
T(3, 436, 'H', {bold:true, size:14, va:'top'});
T(55, 447, 'Unifected', {align:'center', fill:GRAYT});
T(127, 447, 'B.1.1-infected', {align:'center'});
T(200, 447, '{a|Delta}-infected', {align:'center', rich:{a:R(COL.delta.lab)}});
T(272, 447, '{a|BA.1}-infected', {align:'center', rich:{a:R(COL.ba1.lab)}});
T(348, 447, '{a|BA.2}-infected', {align:'center', rich:{a:R(COL.ba2.lab)}});
const Hp = {top:455, width:50, height:102, ymin:1, ymax:4};
dotPanel(Object.assign({left:30, yName:true, groups:[H1_B11, H1_Delta, H1_BA1, H1_BA2], mean:H1_mean}, Hp));
dotPanel(Object.assign({left:100, groups:[H2_B11, H2_Delta, H2_BA1, H2_BA2], mean:H2_mean, lo:H2_lo, hi:H2_hi, folds:H2_fold,
  p:{a:2, b:3, line:1.33, txt:1.14, text:'=0.30', color:GRAYT}}, Hp));
dotPanel(Object.assign({left:173, groups:[H3_B11, H3_Delta, H3_BA1, H3_BA2], mean:H3_mean, lo:H3_lo, hi:H3_hi, folds:H3_fold}, Hp));
dotPanel(Object.assign({left:247, groups:[H4_B11, H4_Delta, H4_BA1, H4_BA2], mean:H4_mean, lo:H4_lo, hi:H4_hi, folds:H4_fold,
  p:{a:2, b:3, line:1.38, txt:1.16, text:'=0.031', color:RED}}, Hp));
dotPanel(Object.assign({left:322, groups:[H5_B11, H5_Delta, H5_BA1, H5_BA2], mean:H5_mean, lo:H5_lo, hi:H5_hi, folds:H5_fold,
  p:{a:2, b:3, line:1.33, txt:1.14, text:'=0.063', color:GRAYT}}, Hp));

// ---------- Panel I ----------
T(410, 436, 'I', {bold:true, size:14, va:'top'});
T(457, 440, 'No S-', {align:'center', fill:GRAYT});
T(457, 448.5, 'immunized', {align:'center'});
T(532, 440, 'B.1.1 S-', {align:'center'});
T(532, 448.5, 'immunized', {align:'center'});
T(607, 440, 'BA.1 S-', {align:'center', fill:COL.ba1.lab});
T(607, 448.5, 'immunized', {align:'center'});
T(682, 440, 'BA.2 S-', {align:'center', fill:COL.ba2.lab});
T(682, 448.5, 'immunized', {align:'center'});
dotPanel(Object.assign({left:432, yName:true, groups:[I1_B11, I1_Delta, I1_BA1, I1_BA2], mean:I1_mean}, Hp));
dotPanel(Object.assign({left:507, groups:[I2_B11, I2_Delta, I2_BA1, I2_BA2], mean:I2_mean, lo:I2_lo, hi:I2_hi, folds:I2_fold,
  p:{a:2, b:3, line:1.33, txt:1.14, text:'>0.99', color:GRAYT}}, Hp));
dotPanel(Object.assign({left:582, groups:[I3_B11, I3_Delta, I3_BA1, I3_BA2], mean:I3_mean, lo:I3_lo, hi:I3_hi, folds:I3_fold,
  p:{a:2, b:3, line:1.36, txt:1.16, text:'=0.012', color:RED}}, Hp));
dotPanel(Object.assign({left:657, groups:[I4_B11, I4_Delta, I4_BA1, I4_BA2], mean:I4_mean, lo:I4_lo, hi:I4_hi, folds:I4_fold,
  p:{a:2, b:3, line:1.33, txt:1.14, text:'=0.13', color:GRAYT}}, Hp));

const chart = echarts.init(document.getElementById('chart'), null, {renderer:'canvas'});
chart.setOption(option);
</script>
</body>
</html>
